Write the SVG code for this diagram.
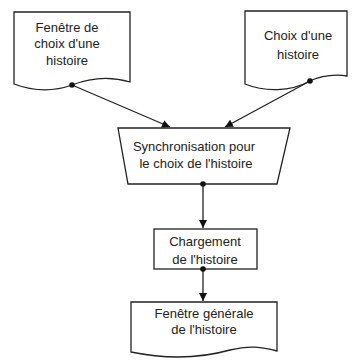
<svg xmlns="http://www.w3.org/2000/svg" width="352" height="361" viewBox="0 0 352 361">
<style>
.s{fill:#fff;stroke:#222;stroke-width:1.3}
.t{font-family:"Liberation Sans",Arial,sans-serif;font-size:13px;fill:#222;text-anchor:middle}
.c{stroke:#222;stroke-width:1.3;fill:none}
.d{fill:#111}
</style>
<defs>
<marker id="ah" viewBox="0 0 10 10" refX="10" refY="5" markerWidth="8" markerHeight="8" markerUnits="userSpaceOnUse" orient="auto"><path d="M0,0 L10,5 L0,10 Z" fill="#111"/></marker>
</defs>
<rect width="352" height="361" fill="#fff"/>
<g id="doc1">
<path class="s" d="M14,12 H130 V82 C110,76 90,78 72,85 C50,93 30,90 14,84 Z"/>
<text class="t" x="67" y="32">Fenêtre de</text>
<text class="t" x="67" y="48">choix d'une</text>
<text class="t" x="67" y="65">histoire</text>
</g>
<g id="doc2">
<path class="s" d="M245,11 H347 V76 C335,74 320,76 310,81 C290,92 265,92 245,84 Z"/>
<text class="t" x="298" y="40">Choix d'une</text>
<text class="t" x="298" y="59">histoire</text>
</g>
<g id="sync">
<path class="s" d="M118,128 H290 L277,184 H128 Z"/>
<text class="t" x="194" y="151">Synchronisation pour</text>
<text class="t" x="196" y="168">le choix de l'histoire</text>
</g>
<g id="charg">
<rect class="s" x="154" y="229" width="103" height="40"/>
<text class="t" x="205" y="246">Chargement</text>
<text class="t" x="205" y="264">de l'histoire</text>
</g>
<g id="doc3">
<path class="s" d="M131,302 H277 V351 C262,347 250,345 230,350 C205,357 170,360 131,352 Z"/>
<text class="t" x="204" y="318">Fenêtre générale</text>
<text class="t" x="204" y="334">de l'histoire</text>
</g>
<g id="connectors">
<path class="c" d="M72,85 L170,127" marker-end="url(#ah)"/>
<path class="c" d="M310,81 L225,127" marker-end="url(#ah)"/>
<path class="c" d="M203,184 V228" marker-end="url(#ah)"/>
<path class="c" d="M203,269 V301" marker-end="url(#ah)"/>
<circle class="d" cx="72" cy="85" r="2.8"/>
<circle class="d" cx="310" cy="81" r="2.8"/>
<circle class="d" cx="203" cy="184" r="2.8"/>
<circle class="d" cx="203" cy="269" r="2.8"/>
</g>
</svg>
